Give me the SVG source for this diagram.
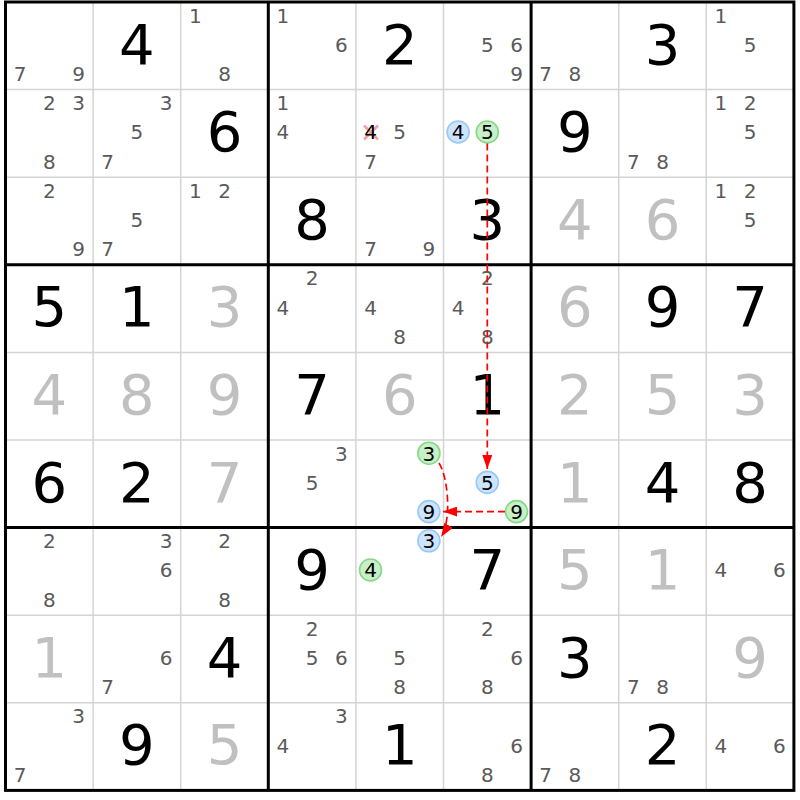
<svg xmlns="http://www.w3.org/2000/svg" width="800" height="800" viewBox="0 0 800 800">
<style>
text{font-family:"DejaVu Sans","Liberation Sans",sans-serif;text-anchor:middle}
.g{font-size:56px;fill:#000}
.s{font-size:56px;fill:#c0c0c0}
.c{font-size:20px;fill:#5a5a5a}
.h{font-size:20px;fill:#000}
.thin{stroke:#d4d4d4;stroke-width:1.5;fill:none}
.thick{stroke:#000;stroke-width:3;fill:none}
.bc{fill:#cce4ff;stroke:#99c8f5;stroke-width:1.6}
.gc{fill:#c8f0c8;stroke:#85d885;stroke-width:1.6}
.arr{stroke:#f00;stroke-width:1.7;stroke-dasharray:7,4;fill:none;marker-end:url(#ah)}
.x{stroke:#f4a0a0;stroke-width:2.5}
</style>
<defs>
<marker id="ah" markerUnits="userSpaceOnUse" markerWidth="14" markerHeight="10" refX="14" refY="5" orient="auto">
<path d="M0,0 L14,5 L0,10 z" fill="#f00" stroke="none"/>
</marker>
</defs>
<rect x="0" y="0" width="800" height="800" fill="#fff"/>
<g id="grid">
<path class="thin" d="M93.1,2V790.4M180.7,2V790.4M355.9,2V790.4M443.5,2V790.4M618.7,2V790.4M706.3,2V790.4M5.5,89.6H793.9M5.5,177.2H793.9M5.5,352.4H793.9M5.5,440H793.9M5.5,615.2H793.9M5.5,702.8H793.9"/>
<path class="thick" d="M268.3,2V790.4M531.1,2V790.4M5.5,264.8H793.9M5.5,527.6H793.9"/>
<rect class="thick" x="5.5" y="2" width="788.4" height="788.4"/>
</g>
<g id="r1c1"><text class="c" x="20.1" y="81">7</text><text class="c" x="78.5" y="81">9</text></g>
<g id="r1c2"><text class="g" x="136.9" y="63.5">4</text></g>
<g id="r1c3"><text class="c" x="195.3" y="22.6">1</text><text class="c" x="224.5" y="81">8</text></g>
<g id="r1c4"><text class="c" x="282.9" y="22.6">1</text><text class="c" x="341.3" y="51.8">6</text></g>
<g id="r1c5"><text class="g" x="399.7" y="63.5">2</text></g>
<g id="r1c6"><text class="c" x="487.3" y="51.8">5</text><text class="c" x="516.5" y="51.8">6</text><text class="c" x="516.5" y="81">9</text></g>
<g id="r1c7"><text class="c" x="545.7" y="81">7</text><text class="c" x="574.9" y="81">8</text></g>
<g id="r1c8"><text class="g" x="662.5" y="63.5">3</text></g>
<g id="r1c9"><text class="c" x="720.9" y="22.6">1</text><text class="c" x="750.1" y="51.8">5</text></g>

<g id="r2c1"><text class="c" x="49.3" y="110.2">2</text><text class="c" x="78.5" y="110.2">3</text><text class="c" x="49.3" y="168.6">8</text></g>
<g id="r2c2"><text class="c" x="166.1" y="110.2">3</text><text class="c" x="136.9" y="139.4">5</text><text class="c" x="107.7" y="168.6">7</text></g>
<g id="r2c3"><text class="g" x="224.5" y="151.1">6</text></g>
<g id="r2c4"><text class="c" x="282.9" y="110.2">1</text><text class="c" x="282.9" y="139.4">4</text></g>
<g id="r2c5"><path class="x" d="M364,125.5L378,139.5M378,125.5L364,139.5"/><text class="h" x="370.5" y="139.4">4</text><text class="c" x="399.7" y="139.4">5</text><text class="c" x="370.5" y="168.6">7</text></g>
<g id="r2c6"><circle class="bc" cx="458.1" cy="132" r="11"/><text class="h" x="458.1" y="139.4">4</text><circle class="gc" cx="487.3" cy="132" r="11"/><text class="h" x="487.3" y="139.4">5</text></g>
<g id="r2c7"><text class="g" x="574.9" y="151.1">9</text></g>
<g id="r2c8"><text class="c" x="633.3" y="168.6">7</text><text class="c" x="662.5" y="168.6">8</text></g>
<g id="r2c9"><text class="c" x="720.9" y="110.2">1</text><text class="c" x="750.1" y="110.2">2</text><text class="c" x="750.1" y="139.4">5</text></g>

<g id="r3c1"><text class="c" x="49.3" y="197.8">2</text><text class="c" x="78.5" y="256.2">9</text></g>
<g id="r3c2"><text class="c" x="136.9" y="227">5</text><text class="c" x="107.7" y="256.2">7</text></g>
<g id="r3c3"><text class="c" x="195.3" y="197.8">1</text><text class="c" x="224.5" y="197.8">2</text></g>
<g id="r3c4"><text class="g" x="312.1" y="238.7">8</text></g>
<g id="r3c5"><text class="c" x="370.5" y="256.2">7</text><text class="c" x="428.9" y="256.2">9</text></g>
<g id="r3c6"><text class="g" x="487.3" y="238.7">3</text></g>
<g id="r3c7"><text class="s" x="574.9" y="238.7">4</text></g>
<g id="r3c8"><text class="s" x="662.5" y="238.7">6</text></g>
<g id="r3c9"><text class="c" x="720.9" y="197.8">1</text><text class="c" x="750.1" y="197.8">2</text><text class="c" x="750.1" y="227">5</text></g>

<g id="r4c1"><text class="g" x="49.3" y="326.3">5</text></g>
<g id="r4c2"><text class="g" x="136.9" y="326.3">1</text></g>
<g id="r4c3"><text class="s" x="224.5" y="326.3">3</text></g>
<g id="r4c4"><text class="c" x="312.1" y="285.4">2</text><text class="c" x="282.9" y="314.6">4</text></g>
<g id="r4c5"><text class="c" x="370.5" y="314.6">4</text><text class="c" x="399.7" y="343.8">8</text></g>
<g id="r4c6"><text class="c" x="487.3" y="285.4">2</text><text class="c" x="458.1" y="314.6">4</text><text class="c" x="487.3" y="343.8">8</text></g>
<g id="r4c7"><text class="s" x="574.9" y="326.3">6</text></g>
<g id="r4c8"><text class="g" x="662.5" y="326.3">9</text></g>
<g id="r4c9"><text class="g" x="750.1" y="326.3">7</text></g>

<g id="r5c1"><text class="s" x="49.3" y="413.9">4</text></g>
<g id="r5c2"><text class="s" x="136.9" y="413.9">8</text></g>
<g id="r5c3"><text class="s" x="224.5" y="413.9">9</text></g>
<g id="r5c4"><text class="g" x="312.1" y="413.9">7</text></g>
<g id="r5c5"><text class="s" x="399.7" y="413.9">6</text></g>
<g id="r5c6"><text class="g" x="487.3" y="413.9">1</text></g>
<g id="r5c7"><text class="s" x="574.9" y="413.9">2</text></g>
<g id="r5c8"><text class="s" x="662.5" y="413.9">5</text></g>
<g id="r5c9"><text class="s" x="750.1" y="413.9">3</text></g>

<g id="r6c1"><text class="g" x="49.3" y="501.5">6</text></g>
<g id="r6c2"><text class="g" x="136.9" y="501.5">2</text></g>
<g id="r6c3"><text class="s" x="224.5" y="501.5">7</text></g>
<g id="r6c4"><text class="c" x="341.3" y="460.6">3</text><text class="c" x="312.1" y="489.8">5</text></g>
<g id="r6c5"><circle class="gc" cx="428.9" cy="453.2" r="11"/><text class="h" x="428.9" y="460.6">3</text><circle class="bc" cx="428.9" cy="511.6" r="11"/><text class="h" x="428.9" y="519">9</text></g>
<g id="r6c6"><circle class="bc" cx="487.3" cy="482.4" r="11"/><text class="h" x="487.3" y="489.8">5</text><circle class="gc" cx="516.5" cy="511.6" r="11"/><text class="h" x="516.5" y="519">9</text></g>
<g id="r6c7"><text class="s" x="574.9" y="501.5">1</text></g>
<g id="r6c8"><text class="g" x="662.5" y="501.5">4</text></g>
<g id="r6c9"><text class="g" x="750.1" y="501.5">8</text></g>

<g id="r7c1"><text class="c" x="49.3" y="548.2">2</text><text class="c" x="49.3" y="606.6">8</text></g>
<g id="r7c2"><text class="c" x="166.1" y="548.2">3</text><text class="c" x="166.1" y="577.4">6</text></g>
<g id="r7c3"><text class="c" x="224.5" y="548.2">2</text><text class="c" x="224.5" y="606.6">8</text></g>
<g id="r7c4"><text class="g" x="312.1" y="589.1">9</text></g>
<g id="r7c5"><circle class="bc" cx="428.9" cy="540.8" r="11"/><text class="h" x="428.9" y="548.2">3</text><circle class="gc" cx="370.5" cy="570" r="11"/><text class="h" x="370.5" y="577.4">4</text></g>
<g id="r7c6"><text class="g" x="487.3" y="589.1">7</text></g>
<g id="r7c7"><text class="s" x="574.9" y="589.1">5</text></g>
<g id="r7c8"><text class="s" x="662.5" y="589.1">1</text></g>
<g id="r7c9"><text class="c" x="720.9" y="577.4">4</text><text class="c" x="779.3" y="577.4">6</text></g>

<g id="r8c1"><text class="s" x="49.3" y="676.7">1</text></g>
<g id="r8c2"><text class="c" x="166.1" y="665">6</text><text class="c" x="107.7" y="694.2">7</text></g>
<g id="r8c3"><text class="g" x="224.5" y="676.7">4</text></g>
<g id="r8c4"><text class="c" x="312.1" y="635.8">2</text><text class="c" x="312.1" y="665">5</text><text class="c" x="341.3" y="665">6</text></g>
<g id="r8c5"><text class="c" x="399.7" y="665">5</text><text class="c" x="399.7" y="694.2">8</text></g>
<g id="r8c6"><text class="c" x="487.3" y="635.8">2</text><text class="c" x="516.5" y="665">6</text><text class="c" x="487.3" y="694.2">8</text></g>
<g id="r8c7"><text class="g" x="574.9" y="676.7">3</text></g>
<g id="r8c8"><text class="c" x="633.3" y="694.2">7</text><text class="c" x="662.5" y="694.2">8</text></g>
<g id="r8c9"><text class="s" x="750.1" y="676.7">9</text></g>

<g id="r9c1"><text class="c" x="78.5" y="723.4">3</text><text class="c" x="20.1" y="781.8">7</text></g>
<g id="r9c2"><text class="g" x="136.9" y="764.3">9</text></g>
<g id="r9c3"><text class="s" x="224.5" y="764.3">5</text></g>
<g id="r9c4"><text class="c" x="341.3" y="723.4">3</text><text class="c" x="282.9" y="752.6">4</text></g>
<g id="r9c5"><text class="g" x="399.7" y="764.3">1</text></g>
<g id="r9c6"><text class="c" x="516.5" y="752.6">6</text><text class="c" x="487.3" y="781.8">8</text></g>
<g id="r9c7"><text class="c" x="545.7" y="781.8">7</text><text class="c" x="574.9" y="781.8">8</text></g>
<g id="r9c8"><text class="g" x="662.5" y="764.3">2</text></g>
<g id="r9c9"><text class="c" x="720.9" y="752.6">4</text><text class="c" x="779.3" y="752.6">6</text></g>

<g id="connectors">
<path class="arr" d="M487.3,143.5V469"/>
<path class="arr" d="M505,511.6H443"/>
<path class="arr" d="M439,463C448,477 452,520 441,537"/>
</g>
</svg>
